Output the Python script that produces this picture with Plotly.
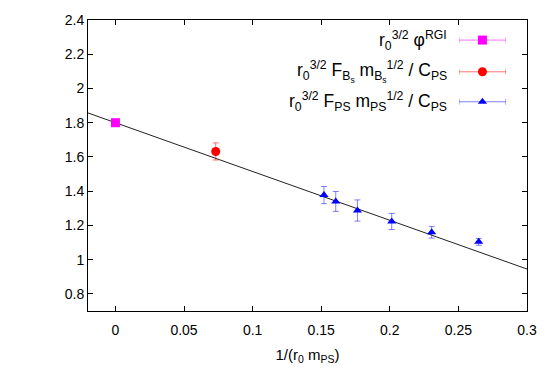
import plotly.graph_objects as go

# Data
rgi_x = [0.0]
rgi_y = [1.80]
rgi_err = [0.02]

bs_x = [0.0731]
bs_y = [1.632]
bs_err = [0.050]

ps_x = [0.152, 0.1606, 0.1764, 0.2014, 0.2305, 0.2648]
ps_y = [1.377, 1.340, 1.287, 1.223, 1.160, 1.104]
ps_err = [0.050, 0.058, 0.062, 0.047, 0.034, 0.020]

fit_x = [-0.02, 0.3]
fit_y = [1.857, 0.945]

x_ticks = [0, 0.05, 0.1, 0.15, 0.2, 0.25, 0.3]
x_tick_labels = ["0", "0.05", "0.1", "0.15", "0.2", "0.25", "0.3"]
y_ticks = [0.8, 1.0, 1.2, 1.4, 1.6, 1.8, 2.0, 2.2, 2.4]
y_tick_labels = ["0.8", "1", "1.2", "1.4", "1.6", "1.8", "2", "2.2", "2.4"]

legend_labels = [
    "r<sub>0</sub><sup>3/2</sup> φ<sup>RGI</sup>",
    "r<sub>0</sub><sup>3/2</sup> F<sub>B<sub>s</sub></sub> m<sub>B<sub>s</sub></sub><sup>1/2</sup> / C<sub>PS</sub>",
    "r<sub>0</sub><sup>3/2</sup> F<sub>PS</sub> m<sub>PS</sub><sup>1/2</sup> / C<sub>PS</sub>",
]
colors = ["#ff00ff", "#ff0000", "#0000ff"]
err_colors = ["rgba(255,0,255,0.55)", "rgba(255,0,0,0.55)", "rgba(0,0,255,0.5)"]
symbols = ["square", "circle", "triangle-up"]
sizes = [9, 9, 8]

FONT = "Liberation Sans, Arial, Helvetica, sans-serif"

fig = go.Figure()

fig.add_trace(go.Scatter(x=fit_x, y=fit_y, mode="lines",
                         line=dict(color="#222222", width=1), showlegend=False))

series = [(rgi_x, rgi_y, rgi_err), (bs_x, bs_y, bs_err), (ps_x, ps_y, ps_err)]
for i, (sx, sy, se) in enumerate(series):
    fig.add_trace(go.Scatter(
        x=sx, y=sy, mode="markers",
        marker=dict(symbol=symbols[i], size=sizes[i], color=colors[i]),
        error_y=dict(type="data", array=se, color=err_colors[i], thickness=1, width=3),
        showlegend=False))

# Manual legend (text right aligned, sample on the right) using a small inset axis
leg_rows = [0.931, 0.822, 0.719]
for i in range(3):
    fig.add_trace(go.Scatter(
        x=[0.5], y=[leg_rows[i]], xaxis="x2", yaxis="y2", mode="markers",
        marker=dict(symbol=symbols[i], size=sizes[i], color=colors[i]),
        error_x=dict(type="constant", value=0.5, color=err_colors[i], thickness=1, width=3),
        showlegend=False, hoverinfo="skip"))
    fig.add_annotation(xref="paper", yref="paper", x=0.822, y=leg_rows[i],
                       text=legend_labels[i], showarrow=False, xanchor="right",
                       yanchor="middle", font=dict(size=17.5, color="black", family=FONT))

# The page body has an 8px default margin; size the figure to fit the window.
fig.update_layout(
    width=537, height=374,
    margin=dict(l=80, r=18, t=12, b=71),
    paper_bgcolor="white", plot_bgcolor="rgba(0,0,0,0)",
    font=dict(family=FONT, size=14, color="black"),
    xaxis=dict(range=[-0.02, 0.3], tickvals=x_ticks, ticktext=x_tick_labels,
               ticks="inside", ticklen=5, tickcolor="black", mirror="ticks",
               showline=True, linecolor="black", linewidth=1, showgrid=False,
               zeroline=False, automargin=False, ticklabelstandoff=6,
               title=dict(text="1/(r<sub>0</sub> m<sub>PS</sub>)", standoff=12,
                          font=dict(size=15))),
    yaxis=dict(range=[0.7, 2.4], tickvals=y_ticks, ticktext=y_tick_labels,
               ticks="inside", ticklen=5, tickcolor="black", mirror="ticks",
               showline=True, linecolor="black", linewidth=1, showgrid=False,
               zeroline=False, automargin=False),
    xaxis2=dict(domain=[0.845, 0.952], range=[0, 1], visible=False, anchor="y2",
                automargin=False),
    yaxis2=dict(domain=[0, 1], range=[0, 1], visible=False, anchor="x2",
                automargin=False),
)

fig.write_html("out.html")
